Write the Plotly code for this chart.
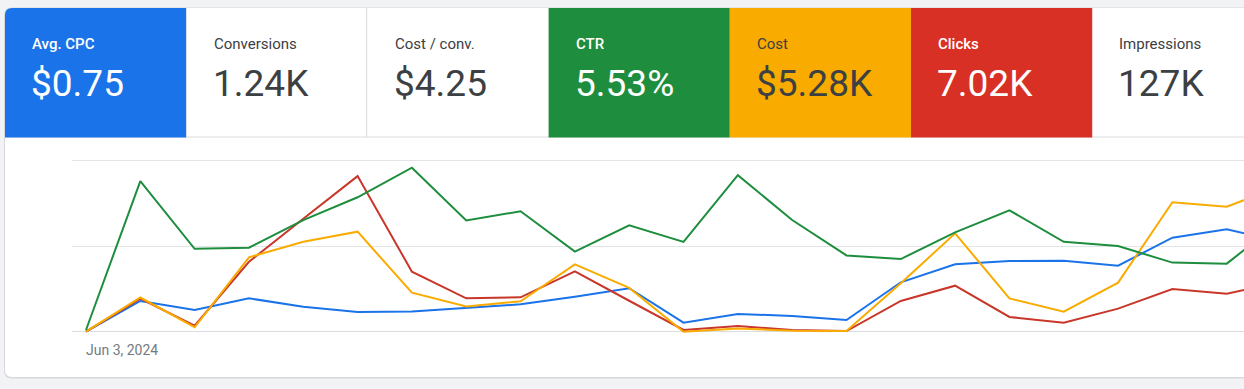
import pandas as pd
import plotly.graph_objects as go

# ---------------- data ----------------
metric_labels = ["Avg. CPC", "Conversions", "Cost / conv.", "CTR", "Cost", "Clicks", "Impressions"]
metric_values = ["$0.75", "1.24K", "$4.25", "5.53%", "$5.28K", "7.02K", "127K"]

start_date = "2024-06-03"
n_days = 23
dates = pd.date_range(start_date, periods=n_days, freq="D")

# normalized series (0 = baseline, 100 = top gridline)
avg_cpc = [0, 18, 12.7, 19.5, 14.6, 11.5, 11.8, 13.7, 16.0, 20.5, 25.4, 5.3, 10.4, 9.2, 6.8,
           28.9, 39.4, 41.3, 41.5, 38.6, 55.0, 59.9, 52.6]
ctr = [1, 88.1, 48.5, 49.1, 65.3, 78.6, 95.9, 65.1, 70.4, 46.8, 62.2, 52.5, 91.5, 65.3, 44.6,
       42.5, 58.1, 71.0, 52.6, 50.1, 40.4, 39.8, 64.7]
clicks = [0, 19.3, 3.5, 40.9, 66, 91, 35.1, 19.5, 20.1, 35.3, 18.1, 1, 3.3, 1, 0.4,
          18, 26.9, 8.6, 5.3, 13.5, 25, 22.2, 29]
cost = [0, 20, 2.6, 43.5, 52.6, 58.5, 22.8, 14.8, 17.8, 39.4, 25.6, 0, 1.8, 0.6, 0.4,
        28.3, 57.5, 19.5, 11.7, 28.7, 75.7, 73.1, 85.3]

date_tick_label = "Jun 3, 2024"

# ---------------- styling ----------------
W, H = 1244, 389
BLUE, GREEN, YELLOW, RED = "#1a73e8", "#1e8e3e", "#f9ab00", "#d93025"
LINE_RED = "#c8372a"
tile_colors = [BLUE, "#ffffff", "#ffffff", GREEN, YELLOW, RED, "#ffffff"]
label_colors = ["#ffffff", "#3c4043", "#3c4043", "#ffffff", "#3c4043", "#ffffff", "#3c4043"]
label_weights = [500, 400, 400, 500, 400, 500, 400]
FONT = "Roboto, Arial, sans-serif"


def X(px):
    return px / W


def Y(py):
    return 1 - py / H


def rect_path(x0, y0, x1, y1, r_tl=0.0, r_bl=0.0):
    # pixel coords -> paper path, optional rounded top-left / bottom-left corners
    p = f"M {X(x0 + r_tl)},{Y(y0)} L {X(x1)},{Y(y0)} L {X(x1)},{Y(y1)} "
    p += f"L {X(x0 + r_bl)},{Y(y1)} "
    if r_bl:
        p += f"Q {X(x0)},{Y(y1)} {X(x0)},{Y(y1 - r_bl)} "
    p += f"L {X(x0)},{Y(y0 + r_tl)} "
    if r_tl:
        p += f"Q {X(x0)},{Y(y0)} {X(x0 + r_tl)},{Y(y0)} "
    return p + "Z"


shapes = []
card_l, card_t, card_b, card_r = 5, 8, 377, 1256
# shadow + card
shapes.append(dict(type="path", xref="paper", yref="paper", layer="below",
                   path=rect_path(card_l - 1, card_t - 0.5, card_r, card_b + 1.5, 8, 8),
                   fillcolor="#d6d8db", line=dict(width=0)))
shapes.append(dict(type="path", xref="paper", yref="paper", layer="below",
                   path=rect_path(card_l, card_t, card_r, card_b, 7, 7),
                   fillcolor="#ffffff", line=dict(width=0)))
# tile bottom border
shapes.append(dict(type="line", xref="paper", yref="paper", layer="below",
                   x0=X(card_l), x1=X(card_r), y0=Y(137), y1=Y(137),
                   line=dict(color="#dadce0", width=1)))

tile_left = 5
tile_w = 181.2
annotations = []
for i, (lab, val) in enumerate(zip(metric_labels, metric_values)):
    x0 = tile_left + i * tile_w
    x1 = x0 + tile_w if i < len(metric_labels) - 1 else card_r
    if tile_colors[i] != "#ffffff":
        shapes.append(dict(type="path", xref="paper", yref="paper", layer="below",
                           path=rect_path(x0, card_t, x1, 137.5, 7 if i == 0 else 0, 0),
                           fillcolor=tile_colors[i], line=dict(width=0)))
    tx = x0 + 25.3
    annotations.append(dict(text=lab, xref="paper", yref="paper", x=X(tx), y=Y(44),
                            xanchor="left", yanchor="middle", showarrow=False,
                            font=dict(family=FONT, size=15, color=label_colors[i],
                                      weight=label_weights[i])))
    annotations.append(dict(text=val, xref="paper", yref="paper", x=X(tx - 1), y=Y(83),
                            xanchor="left", yanchor="middle", showarrow=False,
                            font=dict(family=FONT, size=37, color=label_colors[i])))

# divider between the two white tiles
shapes.append(dict(type="line", xref="paper", yref="paper", layer="below",
                   x0=X(366.7), x1=X(366.7), y0=Y(card_t), y1=Y(137),
                   line=dict(color="#dadce0", width=1)))

fig = go.Figure()
for name, vals, col in [("Avg. CPC", avg_cpc, BLUE), ("Clicks", clicks, LINE_RED),
                        ("Cost", cost, YELLOW), ("CTR", ctr, GREEN)]:
    fig.add_trace(go.Scatter(x=dates, y=vals, name=name, mode="lines",
                             line=dict(color=col, width=2), hoverinfo="skip"))

# chart geometry
first_px, step_px = 86.0, 54.32
plot_l, plot_r = 72.0, 1244.0
x_lo = dates[0] + pd.Timedelta(days=(plot_l - first_px) / step_px)
x_hi = dates[0] + pd.Timedelta(days=(plot_r - first_px) / step_px)

y0_px, y100_px = 331.7, 160.7
ppu = (y0_px - y100_px) / 100
y_lo, y_hi = -10, 110
dom_bottom = Y(y0_px - y_lo * ppu)
dom_top = Y(y0_px - y_hi * ppu)

annotations.append(dict(text=date_tick_label, xref="x", yref="paper", x=dates[0], y=Y(350),
                        xanchor="left", yanchor="middle", showarrow=False, xshift=-2,
                        font=dict(family=FONT, size=14, color="#757a80")))

fig.update_layout(
    width=W, height=H,
    margin=dict(l=0, r=0, t=0, b=0),
    paper_bgcolor="#f1f3f4",
    plot_bgcolor="rgba(0,0,0,0)",
    showlegend=False,
    shapes=shapes,
    annotations=annotations,
    xaxis=dict(domain=[X(plot_l), 1], range=[x_lo, x_hi], showgrid=False, zeroline=False,
               showline=False, showticklabels=False, ticks="", fixedrange=True),
    yaxis=dict(domain=[dom_bottom, dom_top], range=[y_lo, y_hi], tickvals=[0, 50, 100],
               showgrid=True, gridcolor="#e3e4e6", gridwidth=1, zeroline=True,
               zerolinecolor="#dadce0", zerolinewidth=1, showticklabels=False,
               showline=False, ticks="", fixedrange=True),
)

fig.write_html("out.html", config={"displayModeBar": False},
               post_script="document.body.style.margin='0';"
                           "document.body.style.overflow='hidden';"
                           "document.body.style.background='#f1f3f4';")
